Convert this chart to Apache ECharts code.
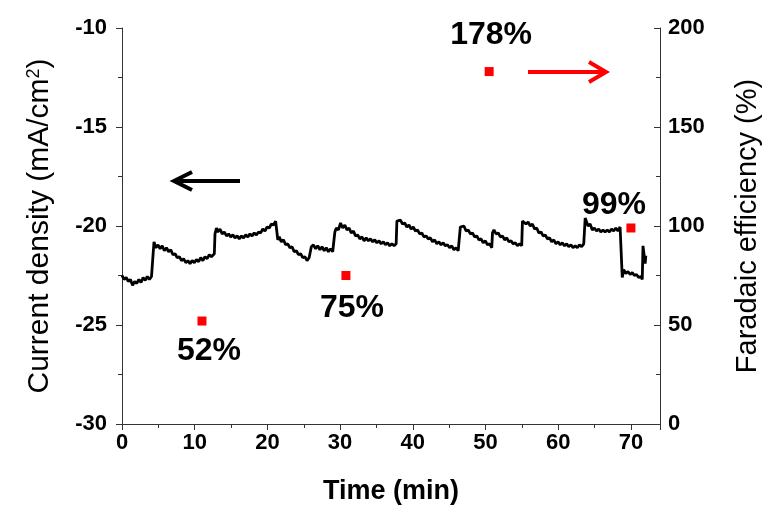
<!DOCTYPE html>
<html><head><meta charset="utf-8">
<script src="https://cdn.jsdelivr.net/npm/echarts@6/dist/echarts.min.js"></script>
<style>html,body{margin:0;padding:0;background:#fff}#c{width:763px;height:506px}</style>
</head><body><div id="c"></div>
<script>
// Current density vs time [min, mA/cm2]
const currentDensity = [
[0,-22.5],[0.29,-22.7],[0.58,-22.6],[0.87,-22.8],[1.16,-22.7],[1.45,-23.0],[1.74,-22.8],[2.03,-22.9],[2.32,-22.7],[2.61,-22.85],[2.9,-22.6],[3.19,-22.75],[3.48,-22.55],[3.77,-22.7],[4.06,-22.55],[4.3,-22.65],
[4.4,-20.8],[4.65,-21.1],[4.95,-20.95],[5.24,-21.15],[5.53,-21.0],[5.83,-21.25],[6.12,-21.1],[6.42,-21.3],[6.71,-21.2],[7.0,-21.45],[7.3,-21.4],[7.59,-21.6],[7.89,-21.55],[8.18,-21.75],[8.48,-21.65],[8.77,-21.85],[9.06,-21.75],[9.36,-21.9],[9.65,-21.75],[9.95,-21.85],[10.24,-21.7],[10.54,-21.8],[10.83,-21.6],[11.12,-21.75],[11.42,-21.55],[11.71,-21.65],[12.01,-21.45],[12.3,-21.55],[12.7,-21.4],
[12.79,-20.4],[12.99,-20.1],[13.18,-20.3],[13.48,-20.15],[13.78,-20.4],[14.07,-20.3],[14.37,-20.5],[14.66,-20.4],[14.95,-20.55],[15.25,-20.45],[15.54,-20.6],[15.84,-20.5],[16.13,-20.65],[16.43,-20.5],[16.72,-20.6],[17.01,-20.45],[17.31,-20.55],[17.6,-20.4],[17.9,-20.5],[18.19,-20.35],[18.49,-20.45],[18.78,-20.3],[19.07,-20.35],[19.37,-20.15],[19.66,-20.25],[19.96,-20.05],[20.25,-20.1],[20.55,-19.9],[20.84,-19.95],[21.13,-19.75],[21.33,-19.8],
[21.43,-20.7],[21.62,-20.55],[21.92,-20.8],[22.21,-20.7],[22.51,-20.95],[22.8,-20.9],[23.1,-21.1],[23.39,-21.05],[23.68,-21.3],[23.98,-21.25],[24.27,-21.45],[24.57,-21.4],[24.86,-21.6],[25.15,-21.55],[25.45,-21.75],[25.74,-21.6],[25.94,-21.5],
[26.04,-21.05],[26.33,-20.95],[26.63,-21.15],[26.92,-21.0],[27.22,-21.2],[27.51,-21.05],[27.81,-21.25],[28.1,-21.1],[28.39,-21.3],[28.69,-21.15],[28.98,-21.3],[29.18,-21.25],
[29.28,-20.3],[29.48,-20.1],[29.77,-20.2],[30.06,-19.85],[30.36,-20.1],[30.65,-19.95],[30.95,-20.2],[31.24,-20.1],[31.53,-20.35],[31.83,-20.25],[32.12,-20.5],[32.42,-20.45],[32.71,-20.65],[33.0,-20.55],[33.3,-20.75],[33.59,-20.6],[33.89,-20.75],[34.18,-20.65],[34.48,-20.8],[34.77,-20.7],[35.06,-20.85],[35.36,-20.75],[35.65,-20.9],[35.95,-20.8],[36.24,-20.95],[36.53,-20.85],[36.83,-21.0],[37.12,-20.9],[37.42,-21.0],[37.71,-20.9],
[37.81,-19.75],[38.0,-19.8],[38.3,-19.7],[38.59,-19.9],[38.89,-19.85],[39.18,-20.05],[39.47,-19.95],[39.77,-20.15],[40.06,-20.05],[40.36,-20.25],[40.65,-20.2],[40.95,-20.4],[41.24,-20.35],[41.53,-20.55],[41.83,-20.5],[42.12,-20.65],[42.42,-20.6],[42.71,-20.8],[43.0,-20.7],[43.3,-20.9],[43.59,-20.8],[43.89,-20.95],[44.18,-20.85],[44.48,-21.0],[44.77,-20.95],[45.06,-21.1],[45.36,-21.0],[45.65,-21.2],[45.95,-21.1],[46.24,-21.25],[46.44,-21.15],
[46.54,-20.05],[46.74,-20.15],[47.03,-20.0],[47.33,-20.25],[47.62,-20.2],[47.92,-20.4],[48.21,-20.35],[48.5,-20.55],[48.8,-20.5],[49.09,-20.7],[49.39,-20.65],[49.68,-20.85],[49.98,-20.75],[50.27,-20.95],[50.57,-20.9],[50.86,-21.1],
[50.96,-20.35],[51.16,-20.2],[51.45,-20.4],[51.75,-20.35],[52.04,-20.55],[52.33,-20.5],[52.63,-20.7],[52.92,-20.6],[53.22,-20.8],[53.51,-20.75],[53.81,-20.9],[54.1,-20.85],[54.39,-21.0],[54.69,-20.9],[54.98,-21.0],
[55.08,-19.75],[55.28,-19.65],[55.57,-19.9],[55.86,-19.8],[56.16,-20.0],[56.45,-19.9],[56.75,-20.15],[57.04,-20.1],[57.34,-20.35],[57.63,-20.3],[57.92,-20.5],[58.22,-20.45],[58.51,-20.65],[58.81,-20.6],[59.1,-20.8],[59.39,-20.7],[59.69,-20.9],[59.98,-20.8],[60.28,-20.95],[60.57,-20.85],[60.87,-21.0],[61.16,-20.9],[61.45,-21.05],[61.75,-20.95],[62.04,-21.1],[62.34,-21.0],[62.63,-21.1],[62.92,-20.95],[63.22,-21.05],[63.51,-20.9],
[63.71,-19.6],[63.9,-19.5],[64.1,-20.0],[64.39,-19.9],[64.69,-20.2],[64.98,-20.1],[65.27,-20.25],[65.57,-20.15],[65.86,-20.3],[66.16,-20.2],[66.45,-20.3],[66.75,-20.2],[67.04,-20.3],[67.33,-20.15],[67.63,-20.25],[67.92,-20.1],[68.22,-20.25],[68.51,-20.05],[68.71,-20.15],
[68.81,-22.6],[69.0,-22.2],[69.3,-22.4],[69.59,-22.3],[69.89,-22.45],[70.18,-22.35],[70.47,-22.5],[70.77,-22.45],[71.06,-22.6],[71.36,-22.55],[71.56,-22.7],
[71.66,-21.0],[71.76,-21.3],[71.86,-21.2],[71.96,-21.9],[72.05,-21.5]
];
// Faradaic efficiency sampling points
const feTimes = [11, 30.8, 50.5, 70];
const feValues = [52, 75, 178, 99];

const FONT = 'Liberation Sans, Arial, sans-serif';
const labelStyles = [
  {position: 'bottom', distance: 10, offset: [7, 0]},
  {position: 'bottom', distance: 12, offset: [6, 0]},
  {position: 'top', distance: 16, offset: [2, 0]},
  {position: 'top', distance: 2, offset: [-17, 0]}
];

const chart = echarts.init(document.getElementById('c'));
const axisLineStyle = {color: '#333', width: 1};
chart.setOption({
  animation: false,
  backgroundColor: '#fff',
  grid: {left: 122, right: 103, top: 28, bottom: 82, containLabel: false, outerBoundsMode: 'none'},
  xAxis: {
    type: 'value', min: 0, max: 74, interval: 10,
    name: 'Time (min)', nameLocation: 'middle', nameGap: 54,
    nameTextStyle: {fontFamily: FONT, fontSize: 27, fontWeight: 'bold', color: '#000'},
    axisLine: {lineStyle: axisLineStyle},
    axisTick: {length: 6, lineStyle: axisLineStyle},
    minorTick: {show: true, splitNumber: 2, length: 4, lineStyle: axisLineStyle},
    splitLine: {show: false},
    axisLabel: {fontFamily: FONT, fontSize: 22, fontWeight: 'bold', color: '#000', margin: 8, showMaxLabel: false}
  },
  yAxis: [{
    type: 'value', min: -30, max: -10, interval: 5, position: 'left',
    name: 'Current density (mA/cm{sup|2})', nameLocation: 'middle', nameGap: 67, nameRotate: 90,
    nameTextStyle: {fontFamily: FONT, fontSize: 30, color: '#000',
      rich: {sup: {fontFamily: FONT, fontSize: 18, verticalAlign: 'top', color: '#000', padding: [0,0,12,0]}}},
    axisLine: {show: true, lineStyle: axisLineStyle},
    axisTick: {show: true, length: 6, lineStyle: axisLineStyle},
    minorTick: {show: true, splitNumber: 2, length: 4, lineStyle: axisLineStyle},
    splitLine: {show: false},
    axisLabel: {fontFamily: FONT, fontSize: 22, fontWeight: 'bold', color: '#000', margin: 15}
  }, {
    type: 'value', min: 0, max: 200, interval: 50, position: 'right',
    name: 'Faradaic efficiency (%)', nameLocation: 'middle', nameGap: 73, nameRotate: 90,
    nameTextStyle: {fontFamily: FONT, fontSize: 29, color: '#000'},
    axisLine: {show: true, lineStyle: axisLineStyle},
    axisTick: {show: true, inside: true, length: 6, lineStyle: axisLineStyle},
    minorTick: {show: true, splitNumber: 2, length: 4, lineStyle: axisLineStyle},
    splitLine: {show: false},
    axisLabel: {fontFamily: FONT, fontSize: 22, fontWeight: 'bold', color: '#000', margin: 8}
  }],
  series: [{
    type: 'line', xAxisIndex: 0, yAxisIndex: 0, data: currentDensity,
    showSymbol: false, lineStyle: {color: '#000', width: 2.8}, z: 3
  }, {
    type: 'scatter', xAxisIndex: 0, yAxisIndex: 1, symbol: 'rect', symbolSize: 9,
    itemStyle: {color: '#ff0000', opacity: 1},
    data: feTimes.map((t, i) => ({
      value: [t, feValues[i]],
      label: Object.assign({show: true, formatter: feValues[i] + '%',
        fontFamily: FONT, fontSize: 32, fontWeight: 'bold', color: '#000', opacity: 1}, labelStyles[i])
    })), z: 4
  }],
  graphic: [
    {type: 'polyline', shape: {points: [[240, 181], [174, 181]]}, style: {stroke: '#000', lineWidth: 4, fill: null}},
    {type: 'polyline', shape: {points: [[192, 172], [174, 181], [192, 190]]}, style: {stroke: '#000', lineWidth: 4, fill: null, lineJoin: 'miter'}},
    {type: 'polyline', shape: {points: [[528, 72], [606, 72]]}, style: {stroke: '#ff0000', lineWidth: 4, fill: null}},
    {type: 'polyline', shape: {points: [[589, 62], [606, 72], [589, 82]]}, style: {stroke: '#ff0000', lineWidth: 4, fill: null, lineJoin: 'miter'}}
  ]
});
</script></body></html>
